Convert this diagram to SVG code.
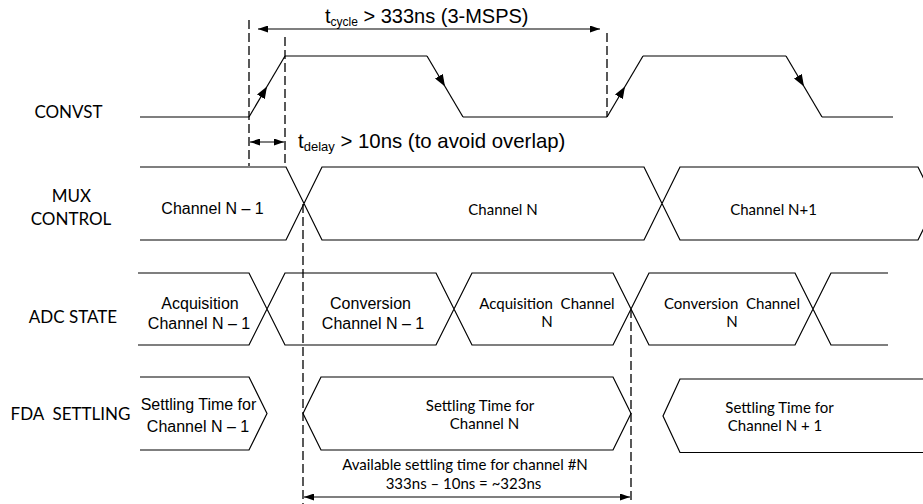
<svg xmlns="http://www.w3.org/2000/svg" width="923" height="504" viewBox="0 0 923 504">
<defs>
<style>
.sig{fill:none;stroke:#000;stroke-width:1.2}
.dash{fill:none;stroke:#000;stroke-width:1.3;stroke-dasharray:9 4}
.dim{fill:none;stroke:#000;stroke-width:1.2}
.lbl{font-family:Lato,"Liberation Sans",sans-serif;font-size:17px;fill:#000;text-anchor:middle}
.ar{font-family:"Liberation Sans",Arial,sans-serif;font-size:16px;fill:#000;text-anchor:middle}
.ca{font-family:Lato,"Liberation Sans",sans-serif;font-size:15px;fill:#000;text-anchor:middle}
.big{font-family:"Liberation Sans",Arial,sans-serif;font-size:20px;fill:#000}
</style>
<marker id="ah" viewBox="0 0 10 7" refX="10" refY="3.5" markerWidth="10" markerHeight="7" markerUnits="userSpaceOnUse" orient="auto-start-reverse">
<path d="M0,0 L10,3.5 L0,7 z" fill="#000"/>
</marker>
<marker id="em" viewBox="0 0 12 9" refX="12" refY="4.5" markerWidth="12" markerHeight="9" markerUnits="userSpaceOnUse" orient="auto">
<path d="M0,0 L12,4.5 L0,9 z" fill="#000"/>
</marker>
</defs>
<rect width="923" height="504" fill="#fff"/>

<g id="labels">
<text class="lbl" x="68.5" y="118">CONVST</text>
<text class="lbl" x="71.5" y="202">MUX</text>
<text class="lbl" x="71" y="225">CONTROL</text>
<text class="lbl" x="73" y="323">ADC STATE</text>
<text class="lbl" x="70.5" y="420" xml:space="preserve">FDA  SETTLING</text>
</g>

<g id="convst">
<path class="sig" d="M140,117 H249 M285,56 H427 M463,117 H607 M643,56 H786 M822,117 H893"/>
<path class="sig" d="M249,117 L267,86.5 L285,56" marker-mid="url(#em)"/>
<path class="sig" d="M427,56 L445,86.5 L463,117" marker-mid="url(#em)"/>
<path class="sig" d="M607,117 L625,86.5 L643,56" marker-mid="url(#em)"/>
<path class="sig" d="M786,56 L804,86.5 L822,117" marker-mid="url(#em)"/>
</g>

<g id="mux">
<path class="sig" d="M140,167 H286 L322,240 H644 L680,167 H918 L936,203.5 M140,240 H286 L322,167 H644 L680,240 H918 L936,203.5"/>
<text class="ar" x="212.5" y="214">Channel N – 1</text>
<text class="ca" x="503" y="215">Channel N</text>
<text class="ca" x="773.5" y="215">Channel N+1</text>
</g>

<g id="adc">
<path class="sig" d="M138,273 H249 L285,345 H436 L472,273 H613 L649,345 H795 L831,273 H888 M138,345 H249 L285,273 H436 L472,345 H613 L649,273 H795 L831,345 H888"/>
<text class="ar" x="200" y="309">Acquisition</text>
<text class="ar" x="199" y="329">Channel N – 1</text>
<text class="ar" x="370.5" y="309">Conversion</text>
<text class="ar" x="373" y="329">Channel N – 1</text>
<text class="ca" x="547" y="309" xml:space="preserve">Acquisition  Channel</text>
<text class="ca" x="547" y="327">N</text>
<text class="ca" x="732" y="309" xml:space="preserve">Conversion  Channel</text>
<text class="ca" x="732" y="327">N</text>
</g>

<g id="fda">
<path class="sig" d="M140,377 H249 L267,413.5 L249,450 H140"/>
<path class="sig" d="M321,377 H613 L631,413.5 L613,450 H321 L303,413.5 Z"/>
<path class="sig" d="M923,379 H680 L663,416 L680,452.5 H923"/>
<text class="ar" x="198.5" y="410">Settling Time for</text>
<text class="ar" x="198" y="432">Channel N – 1</text>
<text class="ca" x="480" y="411">Settling Time for</text>
<text class="ca" x="484.5" y="429">Channel N</text>
<text class="ca" x="779.5" y="412.5">Settling Time for</text>
<text class="ca" x="775" y="430.5">Channel N + 1</text>
</g>

<g id="connectors">
<path class="dash" d="M249,20 V166"/>
<path class="dash" d="M285,37 V166"/>
<path class="dash" d="M607,33 V117"/>
<path class="dash" d="M303,204 V504"/>
<path class="dash" d="M631,309 V500"/>
<path class="dim" d="M258,29 H600" marker-start="url(#ah)" marker-end="url(#ah)"/>
<path class="dim" d="M250,142 H284" marker-start="url(#ah)" marker-end="url(#ah)"/>
<path class="dim" d="M304,497 H630" marker-start="url(#ah)" marker-end="url(#ah)"/>
</g>

<g id="annotations">
<text class="big" x="325" y="23">t<tspan font-size="12" dy="3">cycle</tspan><tspan dy="-3"> &gt; 333ns (3-MSPS)</tspan></text>
<text class="big" x="298" y="148" style="font-size:20.4px">t<tspan font-size="13" dy="3">delay</tspan><tspan dy="-3"> &gt; 10ns (to avoid overlap)</tspan></text>
<text class="ca" x="465" y="470">Available settling time for channel #N</text>
<text class="ca" x="463.5" y="488.5">333ns – 10ns = ~323ns</text>
</g>
</svg>
